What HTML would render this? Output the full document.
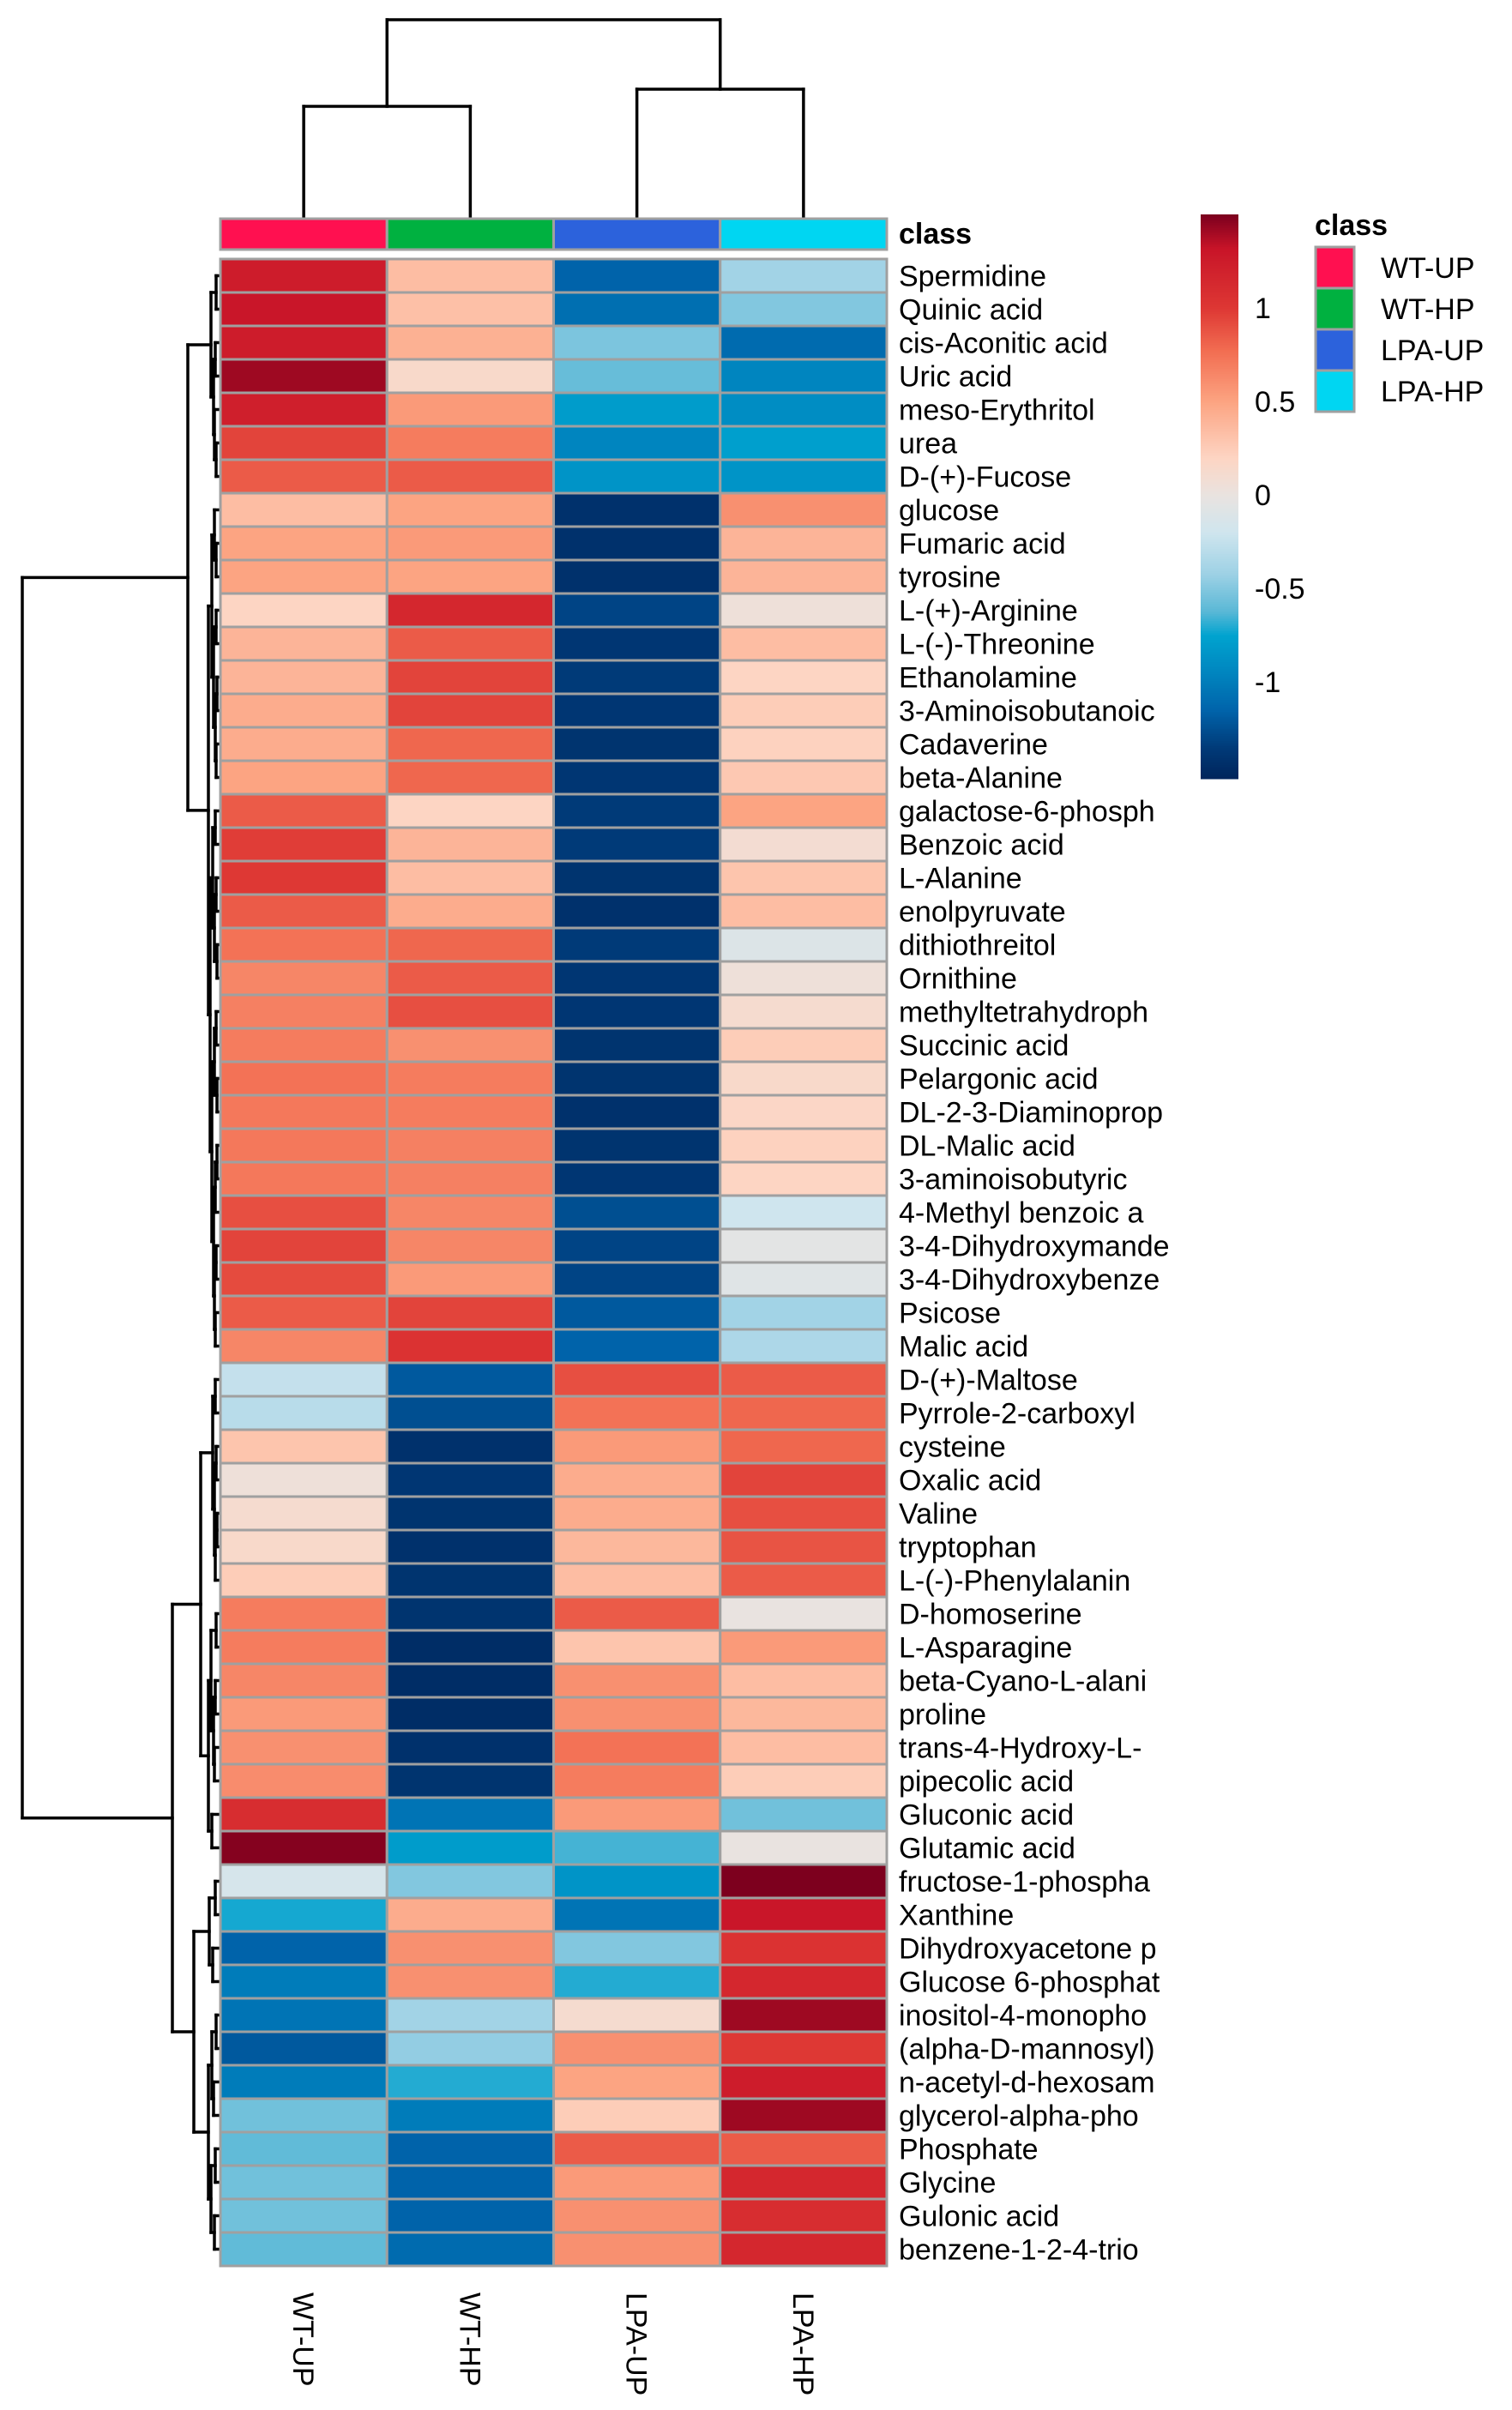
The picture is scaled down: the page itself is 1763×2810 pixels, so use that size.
<!DOCTYPE html>
<html><head><meta charset="utf-8">
<style>
html,body{margin:0;padding:0;background:#fff;}
svg{display:block;font-family:"Liberation Sans",Arial,sans-serif;}
</style></head>
<body>
<svg id="chart" width="1763" height="2810" viewBox="0 0 1763 2810" xmlns="http://www.w3.org/2000/svg">
<rect width="1763" height="2810" fill="#fff"/>
<g id="coldendro"></g>
<g id="rowdendro"></g>
<g id="classbar"></g>
<g id="cells"></g>
<g id="rowlabels"></g>
<g id="collabels"></g>
<g id="colorbar"></g>
<g id="classlegend"></g>
</svg>
<script>
const columns = ["WT-UP","WT-HP","LPA-UP","LPA-HP"];
const classColors = ["#FF1050","#00B140","#2C62DC","#00D6F2"];
const rowNames = ["Spermidine","Quinic acid","cis-Aconitic acid","Uric acid","meso-Erythritol","urea","D-(+)-Fucose","glucose","Fumaric acid","tyrosine","L-(+)-Arginine","L-(-)-Threonine","Ethanolamine","3-Aminoisobutanoic","Cadaverine","beta-Alanine","galactose-6-phosph","Benzoic acid","L-Alanine","enolpyruvate","dithiothreitol","Ornithine","methyltetrahydroph","Succinic acid","Pelargonic acid","DL-2-3-Diaminoprop","DL-Malic acid","3-aminoisobutyric","4-Methyl benzoic a","3-4-Dihydroxymande","3-4-Dihydroxybenze","Psicose","Malic acid","D-(+)-Maltose","Pyrrole-2-carboxyl","cysteine","Oxalic acid","Valine","tryptophan","L-(-)-Phenylalanin","D-homoserine","L-Asparagine","beta-Cyano-L-alani","proline","trans-4-Hydroxy-L-","pipecolic acid","Gluconic acid","Glutamic acid","fructose-1-phospha","Xanthine","Dihydroxyacetone p","Glucose 6-phosphat","inositol-4-monopho","(alpha-D-mannosyl)","n-acetyl-d-hexosam","glycerol-alpha-pho","Phosphate","Glycine","Gulonic acid","benzene-1-2-4-trio"];
const valWTUP = [1.25,1.3,1.25,1.42,1.22,0.95,0.85,0.35,0.5,0.5,0.2,0.4,0.4,0.45,0.45,0.5,0.85,0.98,1.0,0.85,0.75,0.65,0.68,0.7,0.75,0.72,0.72,0.72,0.9,0.95,0.92,0.85,0.65,-0.25,-0.3,0.3,0.05,0.12,0.15,0.25,0.7,0.7,0.65,0.55,0.6,0.62,1.1,1.48,-0.15,-0.72,-1.15,-1.0,-1.05,-1.2,-1.0,-0.55,-0.6,-0.55,-0.55,-0.6];
const valWTHP = [0.35,0.33,0.42,0.15,0.55,0.7,0.85,0.5,0.55,0.5,1.15,0.85,0.95,0.95,0.8,0.8,0.2,0.4,0.35,0.45,0.8,0.85,0.9,0.6,0.7,0.7,0.68,0.68,0.65,0.65,0.55,0.95,1.05,-1.2,-1.25,-1.42,-1.38,-1.4,-1.42,-1.4,-1.4,-1.45,-1.45,-1.45,-1.42,-1.4,-1.05,-0.8,-0.5,0.45,0.6,0.6,-0.4,-0.45,-0.7,-1.0,-1.15,-1.15,-1.15,-1.1];
const valLPAUP = [-1.15,-1.08,-0.52,-0.58,-0.8,-0.95,-0.85,-1.42,-1.42,-1.42,-1.3,-1.38,-1.35,-1.38,-1.4,-1.38,-1.35,-1.35,-1.4,-1.42,-1.35,-1.38,-1.38,-1.4,-1.4,-1.42,-1.4,-1.38,-1.25,-1.3,-1.3,-1.2,-1.15,0.9,0.75,0.55,0.45,0.45,0.38,0.35,0.85,0.3,0.6,0.6,0.75,0.7,0.55,-0.65,-0.85,-1.05,-0.5,-0.7,0.12,0.6,0.5,0.25,0.85,0.55,0.6,0.6];
const valLPAHP = [-0.4,-0.5,-1.1,-0.95,-0.9,-0.78,-0.85,0.6,0.4,0.4,0.05,0.35,0.2,0.25,0.22,0.28,0.5,0.1,0.3,0.35,-0.1,0.05,0.12,0.25,0.15,0.18,0.22,0.2,-0.2,-0.05,-0.08,-0.4,-0.35,0.85,0.8,0.8,0.95,0.9,0.88,0.85,0.0,0.55,0.35,0.38,0.35,0.25,-0.55,0.0,1.5,1.3,1.05,1.15,1.42,1.0,1.25,1.42,0.85,1.15,1.1,1.15];
const scaleTicks = [1,0.5,0,-0.5,-1];
const scaleTickLabels = ["1","0.5","0","-0.5","-1"];
// row dendrogram: [height, left, right]; leaves are row indices
const rowTree = [229,
  [36,
    [9,[3,0,1],[6,[4,2,3],[5,4,[3,5,6]]]],
    [12,
      [8,[5,7,[3,8,9]],[6,[3,10,11],[4,[2,12,13],[3,14,15]]]],
      [10,[7,[4,16,17],[5,[3,18,19],[2,20,21]]],[8,[5,[3,22,23],[2,24,25]],[6,[4,[2,26,27],28],[5,[3,29,30],[4,31,32]]]]]]],
  [54,
    [21,[7,[4,33,34],[5,[3,35,36],[4,[2,37,38],39]]],[12,[9,[3,40,41],[6,[4,42,43],[5,44,45]]],[8,46,47]]],
    [29,[11,[4,48,49],[7,50,51]],[12,[8,[3,52,53],[6,54,55]],[9,[4,56,57],[5,58,59]]]]]];
// column dendrogram heights
const colTree = [231,[130,0,1],[150,2,3]];

const NS="http://www.w3.org/2000/svg";
function mk(tag,attrs,parent){const e=document.createElementNS(NS,tag);for(const k in attrs)e.setAttribute(k,attrs[k]);parent.appendChild(e);return e;}
const X0=257,X1=1034,Y0=302,Y1=2642;
const cw=(X1-X0)/columns.length, rh=(Y1-Y0)/rowNames.length;
const colX=i=>X0+i*cw, rowY=i=>Y0+i*rh;
const stops=[[1.5,[125,0,30]],[1.32,[200,20,40]],[1.0,[222,56,52]],[0.77,[242,110,82]],[0.5,[252,164,130]],[0.2,[253,213,195]],[0,[233,227,224]],[-0.2,[207,229,238]],[-0.42,[157,209,229]],[-0.62,[90,184,214]],[-0.75,[0,163,207]],[-0.95,[0,133,191]],[-1.15,[0,99,170]],[-1.35,[0,58,120]],[-1.52,[0,36,90]]];
function color(v){if(v>=stops[0][0])return rgb(stops[0][1]);for(let i=0;i<stops.length-1;i++){const a=stops[i],b=stops[i+1];if(v<=a[0]&&v>=b[0]){const t=(a[0]-v)/(a[0]-b[0]);return rgb(a[1].map((c,j)=>c+(b[1][j]-c)*t));}}return rgb(stops[stops.length-1][1]);}
function rgb(c){return "rgb("+c.map(Math.round).join(",")+")";}
const series=[valWTUP,valWTHP,valLPAUP,valLPAHP];
const gC=document.getElementById("cells");
for(let r=0;r<rowNames.length;r++){for(let c=0;c<columns.length;c++){
  const e=mk("rect",{x:colX(c),y:rowY(r),width:cw,height:rh,fill:color(series[c][r]),stroke:"#a0a0a0","stroke-width":3},gC);
  
  
}}
const gL=document.getElementById("rowlabels");
rowNames.forEach((n,r)=>{const t=mk("text",{x:1048,y:rowY(r)+rh/2+12,"font-size":34,fill:"#000"},gL);t.textContent=n;
  
  });
const gB=document.getElementById("classbar");
columns.forEach((n,c)=>{const e=mk("rect",{x:colX(c),y:255,width:cw,height:36,fill:classColors[c],stroke:"#a0a0a0","stroke-width":3},gB);
  
  });
const ct=mk("text",{x:1048,y:284,"font-size":34,"font-weight":"bold"},gB);ct.textContent="class";


const gCL=document.getElementById("collabels");
columns.forEach((n,c)=>{const cx=colX(c)+cw/2;const t=mk("text",{x:0,y:0,"font-size":34,transform:`translate(${cx-12},2673) rotate(90)`},gCL);t.textContent=n;
  
  });
// dendrograms
function line(p,x1,y1,x2,y2){const e=mk("line",{x1,y1,x2,y2,stroke:"#000","stroke-width":3.5,"stroke-linecap":"square"},p);
  
  }
const gRD=document.getElementById("rowdendro");
function drawRow(n){if(typeof n==="number")return{y:rowY(n)+rh/2,h:0};
  const a=drawRow(n[1]),b=drawRow(n[2]);const x=X0-2-n[0];
  line(gRD,X0-2-a.h,a.y,x,a.y);line(gRD,X0-2-b.h,b.y,x,b.y);line(gRD,x,a.y,x,b.y);return{y:(a.y+b.y)/2,h:n[0]};}
drawRow(rowTree);
const gCD=document.getElementById("coldendro");
const base=254;
function drawCol(n){if(typeof n==="number")return{x:colX(n)+cw/2,h:0};
  const a=drawCol(n[1]),b=drawCol(n[2]);const y=base-n[0];
  line(gCD,a.x,base-a.h,a.x,y);line(gCD,b.x,base-b.h,b.x,y);line(gCD,a.x,y,b.x,y);return{x:(a.x+b.x)/2,h:n[0]};}
drawCol(colTree);
// color bar
const gS=document.getElementById("colorbar");
const cbTop=250,cbBot=907,vTop=1.5,vBot=-1.514;
const vy=v=>cbTop+(vTop-v)/(vTop-vBot)*(cbBot-cbTop);
for(let y=cbTop;y<cbBot;y+=2){const e=mk("rect",{x:1400,y:y,width:44,height:2.5,fill:color(vTop-(y-cbTop)/(cbBot-cbTop)*(vTop-vBot))},gS);
  
  }
scaleTicks.forEach((v,i)=>{const t=mk("text",{x:1463,y:vy(v)+12,"font-size":34},gS);t.textContent=scaleTickLabels[i];
  
  });
// class legend
const gK=document.getElementById("classlegend");
const kt=mk("text",{x:1533,y:274,"font-size":34,"font-weight":"bold"},gK);kt.textContent="class";


columns.forEach((n,i)=>{const y=288+i*48;
  const r=mk("rect",{x:1534,y:y,width:45,height:48,fill:classColors[i],stroke:"#a0a0a0","stroke-width":3},gK);
  
  
  const t=mk("text",{x:1610,y:y+36,"font-size":34},gK);t.textContent=n;
  
  });
</script>
</body></html>
